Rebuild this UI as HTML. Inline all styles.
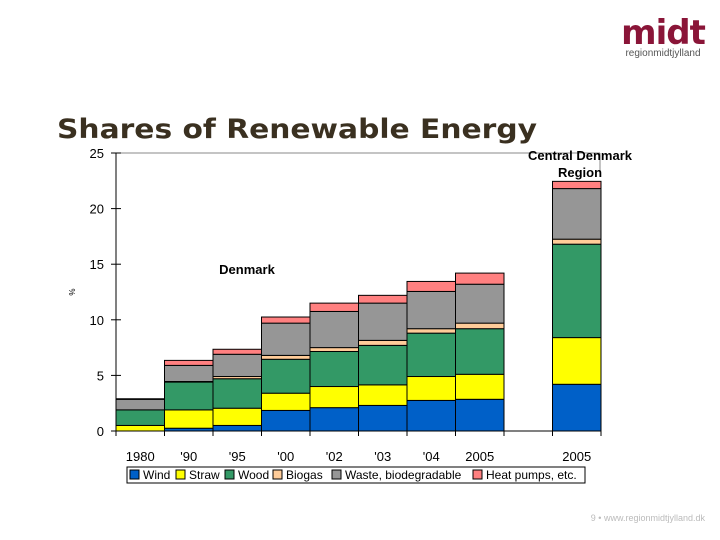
<!DOCTYPE html>
<html><head><meta charset="utf-8">
<style>
html,body{margin:0;padding:0;background:#fff;}
svg{display:block;}
</style></head>
<body>
<svg id="chart" width="720" height="540" xmlns="http://www.w3.org/2000/svg" font-family="Liberation Sans, Arial, sans-serif">
  <g>
    <text x="663" y="44" text-anchor="middle" font-family="DejaVu Sans, sans-serif" font-weight="bold" font-size="34" fill="#8a1538" letter-spacing="-1">midt</text>
    <text x="663" y="56" text-anchor="middle" font-size="10" fill="#555">regionmidtjylland</text>
  </g>
  <text x="57" y="138" font-family="DejaVu Sans, sans-serif" font-weight="bold" font-size="27" fill="#3a3020" textLength="480" lengthAdjust="spacingAndGlyphs">Shares of Renewable Energy</text>
  <line x1="116" y1="153" x2="600" y2="153" stroke="#888" stroke-width="1"/>
  <line x1="600" y1="153" x2="600" y2="176" stroke="#888" stroke-width="1"/>
  <g id="bars"></g>
  <g id="axes"></g>
  <text x="75" y="292" font-size="8" transform="rotate(-90 75 292)" text-anchor="middle">%</text>
  <text x="247" y="274" text-anchor="middle" font-size="13" font-weight="bold">Denmark</text>
  <text x="580" y="160" text-anchor="middle" font-size="13" font-weight="bold">Central Denmark</text>
  <text x="580" y="177" text-anchor="middle" font-size="13" font-weight="bold">Region</text>
  <g id="legend"></g>
  <text x="705" y="521" text-anchor="end" font-size="9" fill="#bbb">9 • www.regionmidtjylland.dk</text>
</svg>
<script>
const categories = ["1980","'90","'95","'00","'02","'03","'04","2005","","2005"];
const seriesNames = ["Wind","Straw","Wood","Biogas","Waste, biodegradable","Heat pumps, etc."];
const wind   = [0,   0.25,0.5, 1.85,2.1, 2.3, 2.75,2.85,null,4.2];
const straw  = [0.5, 1.65,1.55,1.55,1.9, 1.85,2.15,2.25,null,4.2];
const wood   = [1.4, 2.5, 2.65,3.05,3.15,3.55,3.9, 4.1, null,8.4];
const biogas = [0,   0.05,0.2, 0.35,0.35,0.45,0.4, 0.5, null,0.45];
const waste  = [0.95,1.45,2.0, 2.9, 3.25,3.35,3.35,3.5, null,4.55];
const heat   = [0.05,0.45,0.45,0.55,0.75,0.7, 0.9, 1.0, null,0.65];
const yTicks = [0,5,10,15,20,25];
const colors = ["#0060c8","#ffff00","#339966","#ffcc99","#969696","#ff8080"];
const series = [wind,straw,wood,biogas,waste,heat];
const NS="http://www.w3.org/2000/svg";
const x0=116, slot=48.5, yBase=431, yTop=153, yMax=25;
const yS = v => yBase - v/yMax*(yBase-yTop);
const xS = i => x0 + i*slot;
function mk(tag, attrs, parent){const e=document.createElementNS(NS,tag);for(const k in attrs)e.setAttribute(k,attrs[k]);parent.appendChild(e);return e;}
const bars=document.getElementById('bars');
categories.forEach((c,i)=>{
  if(wind[i]===null) return;
  let cum=0;
  series.forEach((s,j)=>{
    const v=s[i]; if(!v) {return;}
    const r=mk('rect',{x:xS(i),y:yS(cum+v),width:slot,height:yS(cum)-yS(cum+v),fill:colors[j],stroke:'#000','stroke-width':1},bars);
    
    
    cum+=v;
  });
});
const axes=document.getElementById('axes');
const ya=mk('line',{x1:x0,y1:yTop,x2:x0,y2:yBase,stroke:'#000'},axes);


const xa=mk('line',{x1:x0,y1:yBase,x2:xS(10),y2:yBase,stroke:'#000'},axes);


yTicks.forEach(t=>{
  const y=yS(t);
  mk('line',{x1:x0-5,y1:y,x2:x0+5,y2:y,stroke:'#000'},axes);
  const tx=mk('text',{x:104,y:y+5,'text-anchor':'end','font-size':13},axes);
  tx.textContent=t;
  
  
});
for(let i=0;i<=10;i++){mk('line',{x1:xS(i),y1:yBase,x2:xS(i),y2:yBase+5,stroke:'#000'},axes);}
categories.forEach((c,i)=>{
  if(!c) return;
  const tx=mk('text',{x:xS(i)+slot/2,y:461,'text-anchor':'middle','font-size':13},axes);
  tx.textContent=c;
  
  
});
const lg=document.getElementById('legend');
mk('rect',{x:127,y:467,width:458,height:16,fill:'#fff',stroke:'#000'},lg);
const widths=[[130,143],[176,189],[225,238],[273,286],[332,345],[473,486]];
seriesNames.forEach((n,j)=>{
  const sw=mk('rect',{x:widths[j][0],y:470,width:9,height:9,fill:colors[j],stroke:'#000'},lg);
  
  
  const t=mk('text',{x:widths[j][1],y:479,'font-size':12},lg);
  t.textContent=n;
  
  
});
</script>
</body></html>
